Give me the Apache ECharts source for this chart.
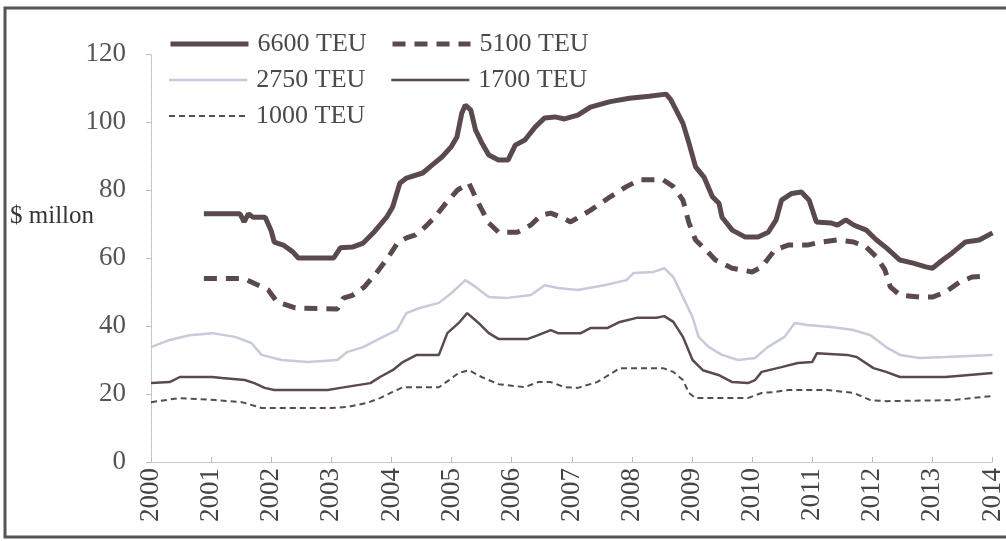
<html>
<head>
<meta charset="utf-8">
<title>Ship prices</title>
<script src="https://cdn.jsdelivr.net/npm/echarts@6/dist/echarts.min.js"></script>
<style>
  html, body { margin:0; padding:0; background:#fff; }
  #main { width:1006px; height:541px; }
</style>
</head>
<body>
<div id="main"></div>
<script>
// years (decimal) and values, $ million
var years6600 = [2000.88,2001.48,2001.55,2001.62,2001.7,2001.9,2002.0,2002.05,2002.2,2002.36,2002.45,2003.04,2003.15,2003.35,2003.53,2003.7,2003.92,2004.02,2004.14,2004.25,2004.52,2004.68,2004.84,2004.99,2005.09,2005.17,2005.23,2005.32,2005.4,2005.5,2005.62,2005.78,2005.94,2006.06,2006.22,2006.39,2006.55,2006.72,2006.88,2007.1,2007.31,2007.64,2007.96,2008.29,2008.57,2008.65,2008.85,2008.95,2009.06,2009.2,2009.34,2009.45,2009.5,2009.67,2009.88,2010.1,2010.27,2010.4,2010.49,2010.66,2010.82,2010.95,2011.07,2011.31,2011.42,2011.56,2011.69,2011.9,2012.07,2012.24,2012.46,2012.68,2012.89,2013.0,2013.17,2013.33,2013.55,2013.78,2014.0];
var vals6600  = [73,73,70.6,73,72,72,68,64.7,63.8,61.8,60,60,63,63.2,64.4,67.4,72,75,82,83.5,85,87.4,89.7,92.6,95.6,102.6,105,103.5,97.6,94,90.3,88.8,88.8,93.2,94.7,98.5,101.2,101.5,100.9,102,104.4,106,107,107.6,108.2,106.5,99.6,93.8,86.8,83.8,78,76.1,72,68.2,66.2,66.2,67.6,71.2,77,79,79.4,77,70.6,70.3,69.7,71.2,69.7,68.2,65.3,62.9,59.4,58.5,57.4,57,59.4,61.5,64.7,65.3,67.4];

var years5100 = [2000.88,2001.5,2001.6,2001.95,2002.1,2002.25,2002.4,2003.1,2003.2,2003.35,2003.55,2003.75,2003.95,2004.1,2004.25,2004.4,2004.56,2004.72,2004.9,2005.1,2005.29,2005.45,2005.62,2005.78,2006.1,2006.32,2006.49,2006.65,2006.85,2006.98,2007.31,2007.64,2007.91,2008.13,2008.52,2008.69,2008.85,2008.95,2009.06,2009.23,2009.39,2009.67,2010.0,2010.16,2010.38,2010.6,2010.92,2011.15,2011.42,2011.69,2011.9,2012.07,2012.21,2012.3,2012.46,2012.79,2013.0,2013.22,2013.45,2013.66,2013.94];
var vals5100  = [54,54,53.5,50.6,47,46.2,45.3,45,48.2,49,51.5,55.6,60.3,64.4,65.9,66.8,69.1,72,76,80,82,76,70.3,67.6,67.6,69.7,72.6,73.2,71.8,70.6,74,78,81,83,83,81,77,70.3,65.3,62.4,59.4,57,55.9,57.4,62.4,63.8,63.8,64.7,65.3,64.7,63.2,60.3,56.5,51.5,49.1,48.5,48.5,50,52.9,54.4,54.7];

var years2750 = [2000.0,2000.31,2000.64,2001.02,2001.4,2001.67,2001.84,2002.17,2002.61,2003.1,2003.27,2003.53,2003.86,2004.09,2004.25,2004.47,2004.79,2005.0,2005.23,2005.4,2005.62,2005.9,2006.32,2006.55,2006.77,2007.1,2007.54,2007.91,2008.03,2008.36,2008.54,2008.69,2008.85,2009.01,2009.11,2009.28,2009.5,2009.77,2010.05,2010.26,2010.54,2010.71,2010.92,2011.31,2011.69,2011.97,2012.23,2012.46,2012.79,2013.22,2014.0];
var vals2750  = [33.8,35.9,37.3,37.9,36.8,35,31.5,30,29.4,30,32.4,33.8,36.8,38.8,43.8,45.3,46.8,49.7,53.5,51.5,48.5,48.2,49.1,52,51.2,50.6,52,53.5,55.6,55.9,57,54.4,48.5,42.6,36.8,33.8,31.5,30,30.6,33.8,36.8,40.9,40.3,39.7,38.8,37.3,33.8,31.5,30.6,30.9,31.5];

var years1700 = [2000.0,2000.31,2000.48,2001.02,2001.18,2001.56,2001.72,2001.89,2002.05,2002.94,2003.15,2003.65,2003.81,2004.02,2004.19,2004.42,2004.79,2004.93,2005.12,2005.26,2005.45,2005.62,2005.78,2006.27,2006.44,2006.65,2006.77,2007.15,2007.31,2007.59,2007.8,2008.08,2008.41,2008.54,2008.69,2008.85,2009.01,2009.18,2009.44,2009.67,2009.93,2010.05,2010.16,2010.49,2010.76,2011.0,2011.08,2011.58,2011.74,2012.02,2012.23,2012.46,2013.22,2014.0];
var vals1700  = [23.2,23.5,25,25,24.7,24.1,23.2,21.8,21.2,21.2,21.8,23.2,25,27,29.4,31.5,31.5,37.9,40.9,43.8,40.9,37.9,36.2,36.2,37.3,38.8,37.9,37.9,39.4,39.4,41.2,42.4,42.4,42.9,41.2,36.8,30,27,25.6,23.5,23.2,24.1,26.5,27.9,29.1,29.4,32,31.5,30.9,27.6,26.5,25,25,26.2];

var years1000 = [2000.0,2000.48,2001.07,2001.51,2001.84,2002.99,2003.27,2003.6,2003.81,2004.02,2004.19,2004.79,2004.96,2005.12,2005.29,2005.5,2005.78,2006.22,2006.44,2006.65,2006.88,2007.1,2007.42,2007.7,2007.8,2008.52,2008.69,2008.85,2008.95,2009.06,2009.93,2010.16,2010.38,2010.6,2011.25,2011.69,2011.97,2012.23,2013.33,2014.0];
var vals1000  = [17.6,18.8,18.2,17.6,15.9,15.9,16.2,17.4,18.8,20.6,22,22,24.1,26.2,27,25,22.9,22,23.5,23.5,22,21.8,23.5,26.5,27.6,27.6,26.5,24.1,20.3,18.8,18.8,20.3,20.6,21.2,21.2,20.3,18.2,17.9,18.2,19.4];

var yearTicks = [2000,2001,2002,2003,2004,2005,2006,2007,2008,2009,2010,2011,2012,2013,2014];
var valueTicks = [0,20,40,60,80,100,120];

function pairs(xs, ys){
	var out = [];
	for(var i=0;i<xs.length;i++){ out.push([xs[i], ys[i]]); }
	return out;
}

var dark = '#5a4a4c';
var light = '#c6cbd9';
var font = '"Liberation Serif", "Times New Roman", serif';

var myChart = echarts.init(document.getElementById('main'));

// one legend block per entry so each sits where the original has it
function leg(name, left, top, ls){
	return {
		data: [name], left: left, top: top, orient: 'horizontal', padding: 0,
		itemWidth: 78, itemHeight: 14, itemGap: 0,
		itemStyle: { opacity: 0 },
		lineStyle: ls,
		textStyle: { fontFamily: font, fontSize: 26, color: '#4a4a4a', padding: [0,0,0,4] },
		selectedMode: false
	};
}

var option = {
	backgroundColor: '#fff',
	animation: false,
	legend: [
		leg('6600 TEU', 168, 31, { color: dark, width: 5, type: 'solid' }),
		leg('5100 TEU', 390, 31, { color: dark, width: 5, type: [13, 9] }),
		leg('2750 TEU', 168, 67, { color: light, width: 2.5, type: 'solid' }),
		leg('1700 TEU', 390, 67, { color: dark, width: 2.5, type: 'solid' }),
		leg('1000 TEU', 168, 103, { color: dark, width: 2, type: [6, 4] })
	],
	grid: { left: 151, right: 6, top: 54, bottom: 79 },
	graphic: [
		{ type: 'rect', shape: { x: 5, y: 8, width: 1010, height: 529 },
		  style: { fill: 'none', stroke: '#555', lineWidth: 3 } },
		{ type: 'text', left: 10, top: 204,
		  style: { text: '$ millon', font: '25px ' + font, fill: '#333' } }
	],
	xAxis: {
		type: 'value', min: 2000, max: 2014, interval: 1,
		axisLine: { show: true, lineStyle: { color: '#bbb', width: 1, type: 'dotted' } },
		axisTick: { show: true, inside: true, length: 5, lineStyle: { color: '#bbb' } },
		splitLine: { show: false },
		axisLabel: {
			rotate: 90, fontFamily: font, fontSize: 27, color: '#444', margin: 6,
			formatter: function(v){ return yearTicks.indexOf(v) >= 0 ? String(v) : ''; }
		}
	},
	yAxis: {
		type: 'value', min: 0, max: 120, interval: 20,
		axisLine: { show: true, lineStyle: { color: '#bbb', width: 1, type: 'dotted' } },
		axisTick: { show: true, length: 5, lineStyle: { color: '#bbb' } },
		splitLine: { show: false },
		axisLabel: {
			fontFamily: font, fontSize: 27, color: '#555', margin: 25,
			formatter: function(v){ return valueTicks.indexOf(v) >= 0 ? String(v) : ''; }
		}
	},
	series: [
		{ name: '6600 TEU', type: 'line', symbol: 'none', data: pairs(years6600, vals6600),
		  lineStyle: { color: dark, width: 5 }, itemStyle: { color: dark } },
		{ name: '5100 TEU', type: 'line', symbol: 'none', data: pairs(years5100, vals5100),
		  lineStyle: { color: dark, width: 5, type: [13, 9] }, itemStyle: { color: dark } },
		{ name: '2750 TEU', type: 'line', symbol: 'none', data: pairs(years2750, vals2750),
		  lineStyle: { color: light, width: 2.5 }, itemStyle: { color: light } },
		{ name: '1700 TEU', type: 'line', symbol: 'none', data: pairs(years1700, vals1700),
		  lineStyle: { color: dark, width: 2.5 }, itemStyle: { color: dark } },
		{ name: '1000 TEU', type: 'line', symbol: 'none', data: pairs(years1000, vals1000),
		  lineStyle: { color: dark, width: 2, type: [6, 4] }, itemStyle: { color: dark } }
	]
};

myChart.setOption(option);
</script>
</body>
</html>
